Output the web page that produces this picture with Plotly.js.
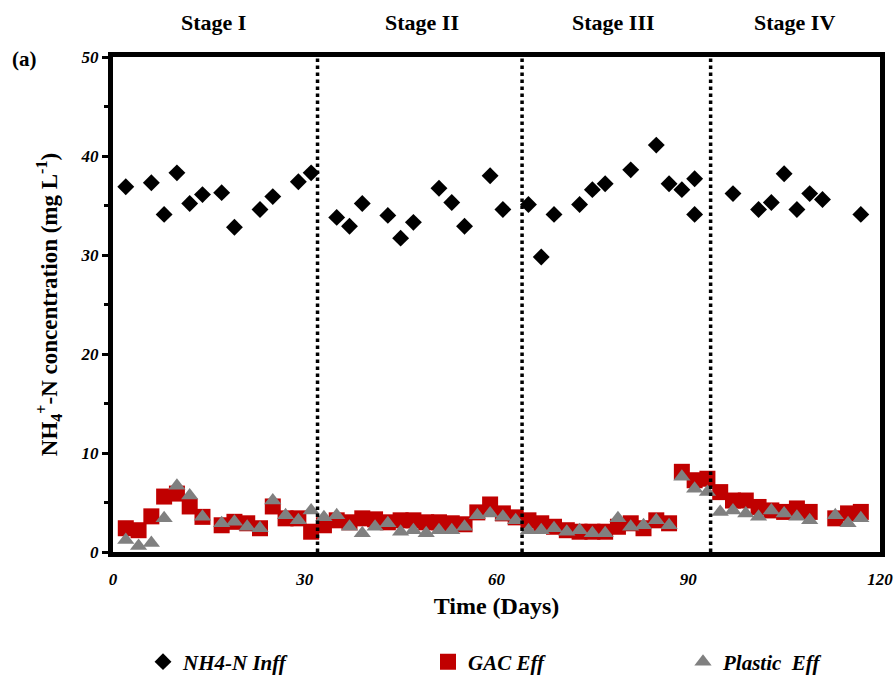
<!DOCTYPE html>
<html>
<head>
<meta charset="utf-8">
<script src="https://cdn.plot.ly/plotly-3.0.1.min.js"></script>
<style>html,body{margin:0;padding:0;background:#fff;}#chart{width:896px;height:679px;}</style>
</head>
<body>
<div id="chart"></div>
<script>
// Influent NH4-N (diamonds)
const inffDays = [2,6,8,10,12,14,17,19,23,25,29,31, 35,37,39,43,45,47,51,53,55,59,61,65, 67,69,73,75,77,81,85,87,89,91,91, 97,101,103,105,107,109,111,117];
const inffValues = [36.9,37.3,34.1,38.3,35.2,36.1,36.3,32.8,34.6,35.9,37.4,38.3, 33.8,32.9,35.2,34.0,31.7,33.3,36.75,35.3,32.9,38.0,34.6,35.1, 29.8,34.1,35.1,36.6,37.2,38.6,41.1,37.2,36.6,37.7,34.1, 36.2,34.6,35.3,38.2,34.6,36.2,35.6,34.1];

// Effluent sampling days (shared by GAC and Plastic)
const effDays = [2,4,6,8,10,12,14,17,19,21,23,25,27,29,31,33, 35,37,39,41,43,45,47,49,51,53,55,57,59,61,63,65, 67,69,71,73,75,77,79,81,83,85,87,89,91,93, 95,97,99,101,103,105,107,109,113,115,117];
const gacValues = [2.4,2.2,3.6,5.6,5.9,4.6,3.55,2.7,3.05,2.9,2.4,4.6,3.4,3.4,2.05,2.7, 3.2,3.0,3.4,3.3,3.0,3.2,3.2,3.0,3.0,2.9,2.8,4.0,4.8,3.9,3.5,3.2, 2.9,2.55,2.2,2.05,2.05,2.05,2.55,2.9,2.4,3.2,2.9,8.1,7.25,7.4, 6.05,5.2,5.2,4.55,4.2,4.05,4.4,4.05,3.4,3.9,4.05];
const plasticValues = [1.2,0.6,0.9,3.4,6.7,5.7,3.55,2.9,3.05,2.55,2.4,5.2,3.7,3.2,4.2,3.5, 3.7,2.55,1.9,2.55,2.9,2.05,2.2,1.9,2.2,2.2,2.55,3.7,3.9,3.55,3.2,2.2, 2.2,2.4,2.05,2.2,1.9,1.9,3.4,2.55,2.7,3.2,2.7,7.6,6.4,6.05, 4.05,4.2,3.9,3.55,4.2,3.9,3.55,3.2,3.7,2.9,3.4];

// Stage boundaries and labels
const stageBounds = [32, 64, 93.5];
const stageLabels = ["Stage I", "Stage II", "Stage III", "Stage IV"];
const stageLabelX = [15.7, 48.3, 78.3, 106.6];

const xTicks = [0, 30, 60, 90, 120];
const yTicks = [0, 10, 20, 30, 40, 50];

const serif = '"Liberation Serif", "Times New Roman", serif';
const legFont = {family: serif, size: 21, color: "#000", weight: "bold", style: "italic"};

const traces = [
  {x: inffDays, y: inffValues, name: "NH4-N Inff", type: "scatter", mode: "markers", legend: "legend",
   marker: {symbol: "diamond", size: 13, color: "#000000"}},
  {x: effDays, y: gacValues, name: "GAC Eff", type: "scatter", mode: "markers", legend: "legend2",
   marker: {symbol: "square", size: 16, color: "#C00000"}},
  {x: effDays, y: plasticValues, name: "Plastic\u00a0 Eff", type: "scatter", mode: "markers", legend: "legend3",
   marker: {symbol: "triangle-up", size: 15, color: "#808080"}}
];

const shapes = stageBounds.map(b => ({
  type: "line", xref: "x", yref: "paper", x0: b, x1: b, y0: 0, y1: 1,
  line: {color: "#000", width: 3.5, dash: "dot"}
}));

const annotations = stageLabels.map((t, i) => ({
  text: "<b>" + t + "</b>", xref: "x", yref: "paper", x: stageLabelX[i], y: 1.07,
  showarrow: false, font: {family: serif, size: 22, color: "#000"}, yanchor: "middle"
}));
annotations.push({
  text: "<b>(a)</b>", xref: "paper", yref: "paper", x: -0.115, y: 0.995,
  xanchor: "center", yanchor: "middle", showarrow: false,
  font: {family: serif, size: 21, color: "#000"}
});

function leg(xpx) {
  return {orientation: "h", xref: "container", yref: "container",
    x: xpx / 896, xanchor: "left", y: 1 - 662 / 679, yanchor: "middle",
    bgcolor: "rgba(0,0,0,0)", font: legFont};
}

const layout = {
  width: 896, height: 679,
  margin: {l: 113, r: 16, t: 57, b: 127},
  paper_bgcolor: "#fff", plot_bgcolor: "#fff",
  showlegend: true,
  legend: leg(143),
  legend2: leg(428),
  legend3: leg(683),
  xaxis: {
    range: [0, 120], tickvals: xTicks, ticktext: xTicks.map(String),
    showgrid: false, zeroline: false, showline: true, linewidth: 5, linecolor: "#000", mirror: true,
    ticks: "", ticklabelstandoff: 8,
    tickfont: {family: serif, size: 17, color: "#000", weight: "bold", style: "italic"},
    title: {text: "<b>Time (Days)</b>", font: {family: serif, size: 24, color: "#000"}, standoff: 10}
  },
  yaxis: {
    range: [0, 50], tickvals: yTicks, ticktext: yTicks.map(String),
    showgrid: false, zeroline: false, showline: true, linewidth: 5, linecolor: "#000", mirror: true,
    ticks: "outside", ticklen: 6, tickwidth: 3, tickcolor: "#000",
    minor: {dtick: 5, ticks: "outside", ticklen: 4, tickwidth: 3, tickcolor: "#000"},
    tickfont: {family: serif, size: 17, color: "#000", weight: "bold", style: "italic"},
    title: {text: "<b>NH<sub>4</sub><sup>+</sup>-N concentration (mg L<sup>-1</sup>)</b>",
      font: {family: serif, size: 23, color: "#000"}, standoff: 18}
  },
  shapes: shapes,
  annotations: annotations
};

Plotly.newPlot("chart", traces, layout, {staticPlot: true, displayModeBar: false});
</script>
</body>
</html>
